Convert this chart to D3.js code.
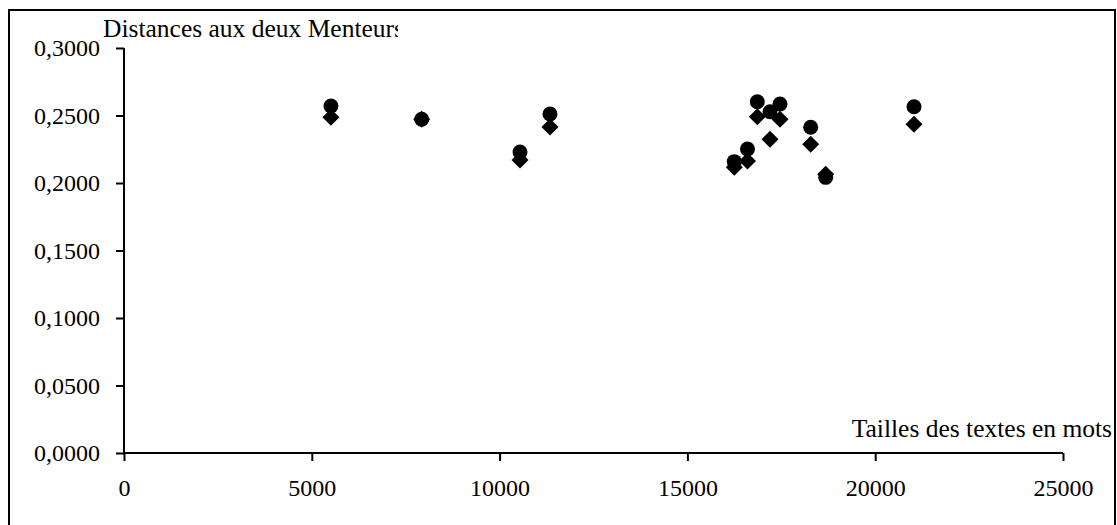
<!DOCTYPE html>
<html>
<head>
<meta charset="utf-8">
<script src="https://cdn.jsdelivr.net/npm/d3@7"></script>
<style>
  html, body { margin: 0; padding: 0; background: #fff; }
  svg { display: block; }
</style>
</head>
<body>
<div id="chart"></div>
<script>
// word counts of the texts (x) and the two distances (y)
var tailles = [5510, 7926, 10543, 11342, 16249, 16600, 16861, 17199, 17465, 18283, 18682, 21033];
var distRonds = [0.2570, 0.2472, 0.2230, 0.2511, 0.2158, 0.2252, 0.2602, 0.2528, 0.2585, 0.2413, 0.2042, 0.2565];
var distLosanges = [0.2487, 0.2472, 0.2170, 0.2415, 0.2116, 0.2163, 0.2491, 0.2324, 0.2472, 0.2287, 0.2064, 0.2435];
var xTicks = [0, 5000, 10000, 15000, 20000, 25000];
var yTicks = [0, 0.05, 0.1, 0.15, 0.2, 0.25, 0.3];

var W = 1117, H = 525;
var margin = {top: 48, right: 54, bottom: 72, left: 124};
var serif = "'Liberation Serif', 'Times New Roman', serif";

var svg = d3.select("#chart").append("svg")
    .attr("width", W)
    .attr("height", H)
    .style("font-family", serif);

// frame round the whole chart
svg.append("rect")
    .attr("x", 9).attr("y", 10)
    .attr("width", 1106).attr("height", 530)
    .attr("fill", "none").attr("stroke", "#000").attr("stroke-width", 2);

var x = d3.scaleLinear().domain([0, 25000]).range([margin.left, W - margin.right]);
var y = d3.scaleLinear().domain([0, 0.3]).range([H - margin.bottom, margin.top]);

var fr = d3.formatLocale({decimal: ",", thousands: " ", grouping: [3], currency: ["", ""]});

var yAxis = svg.append("g")
    .attr("transform", "translate(" + x(0) + ",0)")
    .call(d3.axisLeft(y).tickValues(yTicks).tickFormat(fr.format(".4f")).tickSize(8).tickPadding(16));

var xAxis = svg.append("g")
    .attr("transform", "translate(0," + y(0) + ")")
    .call(d3.axisBottom(x).tickValues(xTicks).tickFormat(d3.format("d")).tickSize(8));

[xAxis, yAxis].forEach(function(g) {
    g.select(".domain").attr("stroke", "#000").attr("stroke-width", 2);
    g.selectAll(".tick line").attr("stroke", "#000").attr("stroke-width", 2);
    g.selectAll(".tick text").attr("fill", "#000").style("font-size", "24px")
        .style("font-family", serif);
});
yAxis.select(".domain").attr("d", "M0," + y(0.3) + "V" + y(0));
xAxis.select(".domain").attr("d", "M" + x(0) + ",0H" + x(25000));
// baseline of the x labels about 43px under the axis
xAxis.selectAll(".tick text").attr("y", 43).attr("dy", null);

// title gets cut off on the right like in the original
svg.append("clipPath").attr("id", "titleClip")
    .append("rect").attr("x", 0).attr("y", 0).attr("width", 398).attr("height", 60);

svg.append("text")
    .attr("x", 103).attr("y", 37)
    .attr("clip-path", "url(#titleClip)")
    .style("font-size", "25.5px")
    .text("Distances aux deux Menteurs");

svg.append("text")
    .attr("x", 1112).attr("y", 437)
    .attr("text-anchor", "end")
    .style("font-size", "25.5px")
    .text("Tailles des textes en mots");

var pts = tailles.map(function(t, i) { return {x: t, a: distRonds[i], b: distLosanges[i]}; });

svg.append("g").selectAll("circle")
    .data(pts)
    .enter().append("circle")
    .attr("cx", function(d) { return x(d.x); })
    .attr("cy", function(d) { return y(d.a); })
    .attr("r", 7.5)
    .attr("fill", "#000");

svg.append("g").selectAll("path")
    .data(pts)
    .enter().append("path")
    .attr("transform", function(d) { return "translate(" + x(d.x) + "," + y(d.b) + ")"; })
    .attr("d", "M0,-8.5L8.5,0L0,8.5L-8.5,0Z")
    .attr("fill", "#000");
</script>
</body>
</html>
